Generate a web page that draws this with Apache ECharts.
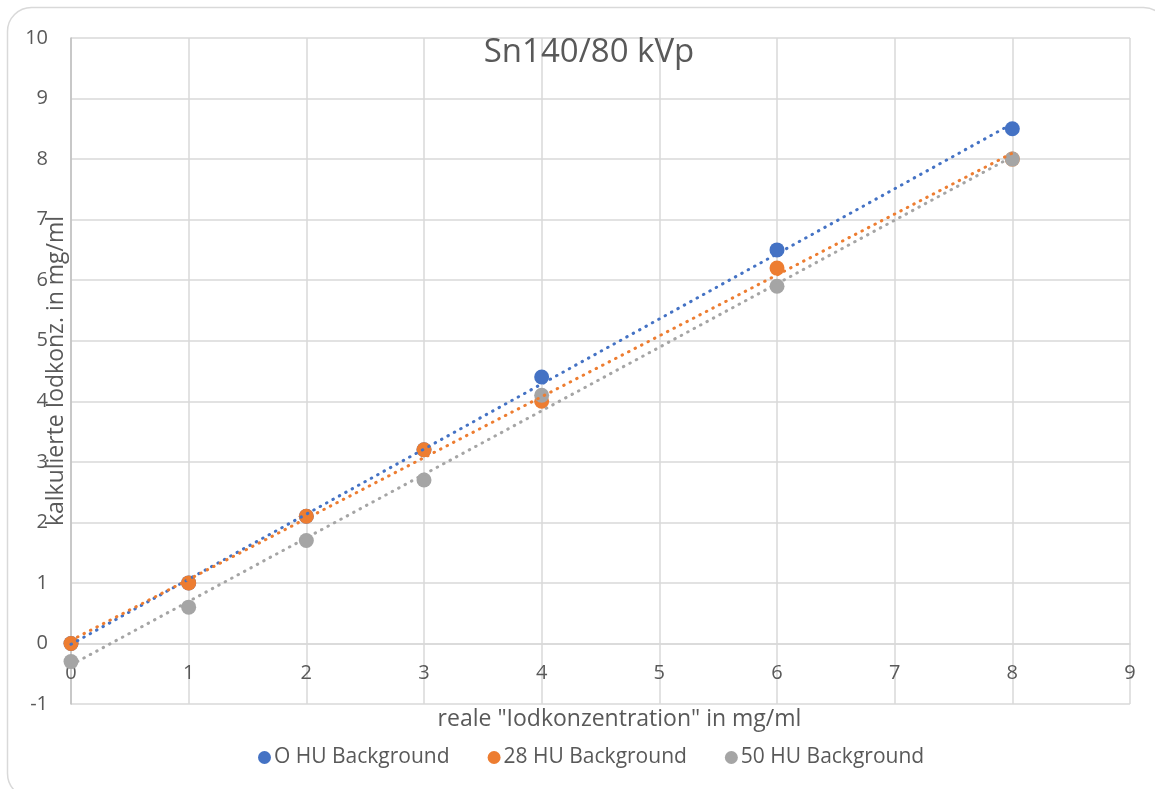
<!DOCTYPE html>
<html>
<head>
<meta charset="utf-8">
<script src="https://cdn.jsdelivr.net/npm/echarts@6/dist/echarts.min.js"></script>
<style>
  html, body { margin: 0; padding: 0; background: #fff; }
  #chart { width: 1155px; height: 789px; }
</style>
</head>
<body>
<div id="chart"></div>
<script>
// Real iodine concentration (mg/ml) at which each sample was measured
const realConc = [0, 1, 2, 3, 4, 6, 8];

// Calculated iodine concentration (mg/ml) per background
const hu0 = [0, 1.0, 2.1, 3.2, 4.4, 6.5, 8.5];
const hu28 = [0, 1.0, 2.1, 3.2, 4.0, 6.2, 8.0];
const hu50 = [-0.3, 0.6, 1.7, 2.7, 4.1, 5.9, 8.0];

const seriesNames = ['O HU Background', '28 HU Background', '50 HU Background'];
const seriesColors = ['#4472C4', '#ED7D31', '#A5A5A5'];

const xTicks = [0, 1, 2, 3, 4, 5, 6, 7, 8, 9];
const yTicks = [-1, 0, 1, 2, 3, 4, 5, 6, 7, 8, 9, 10];

const FONT = '"Open Sans", "Noto Sans", sans-serif';
const TEXT = '#595959';
const GRID = '#D9D9D9';

// Plot area (px)
const W = 1155, H = 789;
const gridBox = { left: 71, right: 25, top: 38, bottom: 85 };

// Least-squares linear trendline across the measured x range
function trend(xs, ys) {
  const n = xs.length;
  const mx = xs.reduce((a, b) => a + b, 0) / n;
  const my = ys.reduce((a, b) => a + b, 0) / n;
  let sxy = 0, sxx = 0;
  for (let i = 0; i < n; i++) {
    sxy += (xs[i] - mx) * (ys[i] - my);
    sxx += (xs[i] - mx) * (xs[i] - mx);
  }
  const k = sxy / sxx, d = my - k * mx;
  const x0 = Math.min(...xs), x1 = Math.max(...xs);
  return [[x0, k * x0 + d], [x1, k * x1 + d]];
}

const values = [hu0, hu28, hu50];

const scatterSeries = values.map((ys, i) => ({
  name: seriesNames[i],
  type: 'scatter',
  symbol: 'circle',
  symbolSize: 15,
  itemStyle: { color: seriesColors[i], opacity: 1 },
  data: realConc.map((x, j) => [x, ys[j]]),
  z: 2
}));

const trendSeries = values.map((ys, i) => ({
  name: seriesNames[i] + ' trend',
  type: 'line',
  showSymbol: false,
  symbol: 'none',
  silent: true,
  lineStyle: { color: seriesColors[i], width: 3, type: [0.5, 6.8], cap: 'round' },
  data: trend(realConc, ys),
  z: 3
}));

// The x axis crosses the y axis at 0: lift it from the bottom edge by the height of (0 - yMin)
const yMin = yTicks[0], yMax = yTicks[yTicks.length - 1];
const plotH = H - gridBox.top - gridBox.bottom;
const xAxisLift = plotH * (0 - yMin) / (yMax - yMin);

const chart = echarts.init(document.getElementById('chart'), null, { renderer: 'canvas' });

chart.setOption({
  animation: false,
  backgroundColor: '#ffffff',
  textStyle: { fontFamily: FONT },
  title: {
    text: 'Sn140/80 kVp',
    left: 584,
    textAlign: 'center',
    top: 31,
    textStyle: { fontFamily: FONT, fontSize: 33, fontWeight: 'normal', color: TEXT }
  },
  legend: {
    data: seriesNames,
    bottom: 16,
    left: 253,
    icon: 'circle',
    itemWidth: 13,
    itemHeight: 13,
    itemGap: 38,
    textStyle: { fontFamily: FONT, fontSize: 21, color: TEXT, padding: [0, 0, 0, -2] }
  },
  graphic: [{
    type: 'rect',
    shape: { x: 7.5, y: 7.5, width: 1160, height: 790, r: 24 },
    style: { fill: 'none', stroke: GRID, lineWidth: 1.5 },
    silent: true,
    z: -10
  }],
  grid: Object.assign({ containLabel: false, outerBoundsMode: 'none' }, gridBox),
  xAxis: {
    type: 'value',
    min: xTicks[0],
    max: xTicks[xTicks.length - 1],
    interval: 1,
    offset: -xAxisLift,
    name: 'reale "Iodkonzentration" in mg/ml',
    nameLocation: 'middle',
    nameGap: 64,
    nameMoveOverlap: false,
    nameTextStyle: { fontFamily: FONT, fontSize: 23, color: TEXT, padding: [0, 0, 0, 38] },
    axisLine: { show: true, onZero: false, lineStyle: { color: GRID, width: 1.5 } },
    axisTick: { show: false },
    axisLabel: { color: TEXT, fontSize: 20, fontFamily: FONT, margin: 20 },
    splitLine: { show: true, lineStyle: { color: GRID, width: 1.5 } }
  },
  yAxis: {
    type: 'value',
    min: yMin,
    max: yMax,
    interval: 1,
    name: 'kalkulierte Iodkonz. in mg/ml',
    nameLocation: 'middle',
    nameRotate: 90,
    nameGap: 3,
    nameMoveOverlap: false,
    nameTextStyle: { fontFamily: FONT, fontSize: 23, color: TEXT },
    axisLine: { show: true, onZero: false, lineStyle: { color: '#BFBFBF', width: 1.5 } },
    axisTick: { show: false },
    axisLabel: { color: TEXT, fontSize: 20, fontFamily: FONT, margin: 23 },
    splitLine: { show: true, lineStyle: { color: GRID, width: 1.5 } }
  },
  series: [...scatterSeries, ...trendSeries]
});
</script>
</body>
</html>
